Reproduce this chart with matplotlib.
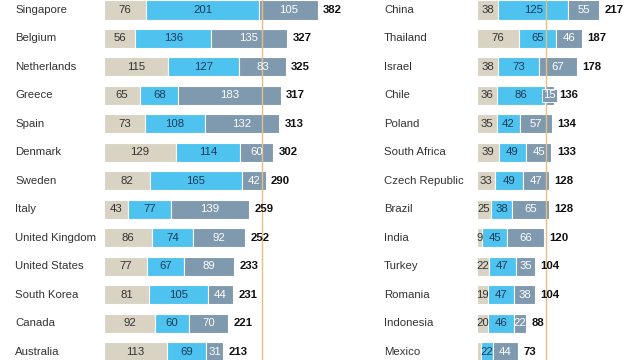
import matplotlib.pyplot as plt
from matplotlib import transforms

plt.rcParams["font.family"] = ["Liberation Sans", "DejaVu Sans"]

# left column
left_countries = ["Singapore", "Belgium", "Netherlands", "Greece", "Spain", "Denmark", "Sweden",
                  "Italy", "United Kingdom", "United States", "South Korea", "Canada", "Australia"]
left_a = [76, 56, 115, 65, 73, 129, 82, 43, 86, 77, 81, 92, 113]
left_b = [201, 136, 127, 68, 108, 114, 165, 77, 74, 67, 105, 60, 69]
left_c = [105, 135, 83, 183, 132, 60, 42, 139, 92, 89, 44, 70, 31]
left_total = [382, 327, 325, 317, 313, 302, 290, 259, 252, 233, 231, 221, 213]

# right column
right_countries = ["China", "Thailand", "Israel", "Chile", "Poland", "South Africa", "Czech Republic",
                   "Brazil", "India", "Turkey", "Romania", "Indonesia", "Mexico"]
right_a = [38, 76, 38, 36, 35, 39, 33, 25, 9, 22, 19, 20, 7]
right_b = [125, 65, 73, 86, 42, 49, 49, 38, 45, 47, 47, 46, 22]
right_c = [55, 46, 67, 15, 57, 45, 47, 65, 66, 35, 38, 22, 44]
right_total = [217, 187, 178, 136, 134, 133, 128, 128, 120, 104, 104, 88, 73]

# reference lines
left_ref = 283
right_ref = 123

colors = ["#d9d3c4", "#4fc3ef", "#7f99ae"]
text_colors = ["#333333", "#1d3b5a", "#ffffff"]

PX_PER_UNIT = 0.559
ROW_PX = 28.47
FIRST_ROW_PX = 10
FS = 8.2

fig = plt.figure(figsize=(6.4, 3.6), dpi=100)
fig.patch.set_facecolor("white")


def draw_panel(x0_px, width_px, label_x_px, countries, a, b, c, totals, ref, skip_labels=()):
    ax = fig.add_axes([x0_px / 640, 0, width_px / 640, 1])
    ax.set_xlim(0, width_px / PX_PER_UNIT)
    top = -FIRST_ROW_PX / ROW_PX
    bottom = (360 - FIRST_ROW_PX) / ROW_PX
    ax.set_ylim(bottom, top)
    ax.axis("off")

    ax.axvline(ref, color="#e6bf85", linewidth=1.0, zorder=3)

    ys = list(range(len(countries)))
    lefts = [0] * len(countries)
    for seg, (vals, col, tcol) in enumerate(zip([a, b, c], colors, text_colors)):
        ax.barh(ys, vals, left=lefts, height=0.67, color=col, edgecolor="white", linewidth=0.8, zorder=2)
        for i, v in enumerate(vals):
            if (i, seg) in skip_labels:
                continue
            box = None
            if seg == 2 and v < 20:
                # tiny segment: label gets its own box
                box = dict(boxstyle="square,pad=0.12", facecolor=col, edgecolor="white", linewidth=0.6)
            ax.text(lefts[i] + v / 2, i, str(v), ha="center", va="center",
                    fontsize=FS, color=tcol, zorder=4, bbox=box)
        lefts = [l + v for l, v in zip(lefts, vals)]

    for i, t in enumerate(totals):
        ax.annotate(str(t), (lefts[i], i), xytext=(4, 0), textcoords="offset points",
                    ha="left", va="center", fontsize=FS, fontweight="bold", color="#111111")

    trans = transforms.blended_transform_factory(fig.transFigure, ax.transData)
    for i, name in enumerate(countries):
        ax.text(label_x_px / 640, i, name, transform=trans, ha="left", va="center",
                fontsize=FS, color="#333333")
    return ax


draw_panel(104, 230, 15, left_countries, left_a, left_b, left_c, left_total, left_ref)
draw_panel(477, 160, 384, right_countries, right_a, right_b, right_c, right_total, right_ref,
           skip_labels={(12, 0)})

fig.savefig("out.png", dpi=100)
